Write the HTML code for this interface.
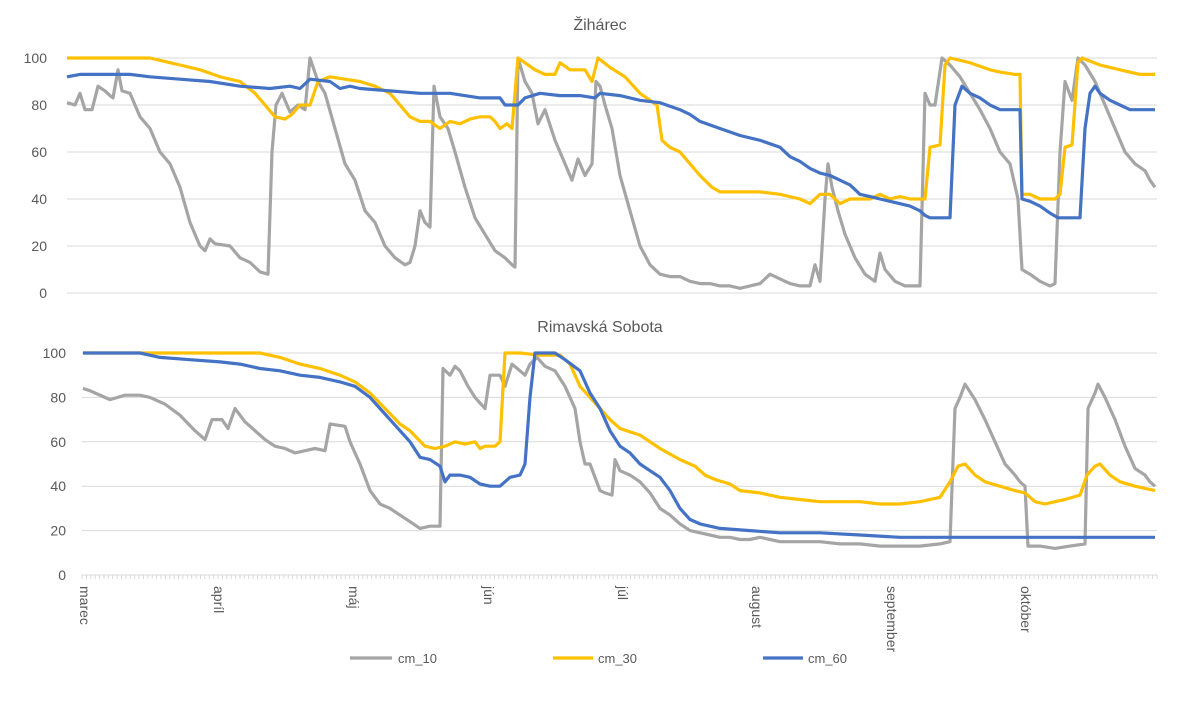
<!DOCTYPE html>
<html><head><meta charset="utf-8"><style>
html,body{margin:0;padding:0;background:#fff;}
svg{display:block;font-family:"Liberation Sans",sans-serif;}
</style></head><body>
<svg id="s" width="1200" height="706" xmlns="http://www.w3.org/2000/svg">
<rect width="1200" height="706" fill="#fff"/>
<text x="600" y="30" font-size="16" fill="#595959" text-anchor="middle">Žihárec</text>
<text x="600" y="332" font-size="16" fill="#595959" text-anchor="middle">Rimavská Sobota</text>
<g id="grid" stroke="#d9d9d9" stroke-width="1"></g>
<g id="lbl" font-size="14" fill="#595959"></g>
<g id="lines" fill="none" stroke-width="3.2" stroke-linejoin="round"></g>
<g font-size="13" fill="#595959">
<line x1="350" y1="658" x2="392" y2="658" stroke="#A5A5A5" stroke-width="3.2"/><text x="398" y="663">cm_10</text>
<line x1="553" y1="658" x2="593" y2="658" stroke="#FFC000" stroke-width="3.2"/><text x="598" y="663">cm_30</text>
<line x1="763" y1="658" x2="803" y2="658" stroke="#4472C4" stroke-width="3.2"/><text x="808" y="663">cm_60</text>
</g>
</svg>
<script>
const NS="http://www.w3.org/2000/svg";
function el(p,t,a,txt){const e=document.createElementNS(NS,t);for(const k in a)e.setAttribute(k,a[k]);if(txt!==undefined)e.textContent=txt;document.getElementById(p).appendChild(e);}
for(let i=0;i<=5;i++){let y=293-i*47;el('grid','line',{x1:67,x2:1157,y1:y,y2:y});el('lbl','text',{x:47,y:y+5,'text-anchor':'end'},String(i*20));}
for(let i=0;i<=5;i++){let y=575-i*44.4;el('grid','line',{x1:82,x2:1157,y1:y,y2:y});el('lbl','text',{x:66,y:y+5,'text-anchor':'end'},String(i*20));}
for(let d=0;d<=245;d++){let x=82+d*(1157-82)/245;el('grid','line',{x1:x,x2:x,y1:575,y2:579});}
const months=['marec','apríl','máj','jún','júl','august','september','október'];
const mx=[85,219,354,489,623,757,892,1026];
months.forEach((m,i)=>{el('lbl','text',{transform:`translate(${mx[i]-5},586) rotate(90)`},m);});
function P(a){let r=[];for(let i=0;i<a.length;i+=2)r.push([a[i],a[i+1]]);return r;}
function draw(pts,col,top){let s=pts.map(([x,v])=>{if(top)return x+','+(293-v*2.35).toFixed(1);let xx=Math.max(x,83);return xx+','+(575-v*2.22).toFixed(1);}).join(' ');el('lines','polyline',{points:s,stroke:col});}
const t10=P([67,81,75,80,80,85,85,78,92,78,98,88,105,86,110,84,113,83,118,95,122,86,130,85,140,75,150,70,160,60,170,55,180,45,190,30,200,20,205,18,210,23,215,21,230,20,240,15,250,13,260,9,268,8,272,60,276,80,282,85,290,77,298,80,305,78,310,100,318,90,325,85,335,70,345,55,355,48,365,35,375,30,385,20,395,15,405,12,410,13,415,20,420,35,425,30,430,28,434,88,440,75,448,70,455,60,465,45,475,32,485,25,495,18,505,15,512,12,515,11,518,100,525,90,532,85,538,72,545,78,555,65,565,55,572,48,578,57,585,50,592,55,596,90,600,88,605,80,612,70,620,50,630,35,640,20,650,12,660,8,670,7,680,7,690,5,700,4,710,4,720,3,730,3,740,2,750,3,760,4,770,8,780,6,790,4,800,3,810,3,815,12,820,5,825,40,828,55,832,45,838,35,845,25,855,15,865,8,875,5,880,17,885,10,895,5,905,3,915,3,920,3,925,85,930,80,935,80,942,100,950,97,960,92,970,85,980,78,990,70,1000,60,1010,55,1018,40,1022,10,1030,8,1040,5,1050,3,1055,4,1060,60,1065,90,1072,82,1078,100,1085,97,1095,90,1105,80,1115,70,1125,60,1135,55,1145,52,1150,48,1155,45]);
const t30=P([67,100,110,100,150,100,160,99,170,98,180,97,200,95,220,92,240,90,255,85,265,80,275,75,285,74,292,76,300,80,310,80,318,90,330,92,345,91,360,90,375,88,390,85,400,80,410,75,420,73,430,73,440,70,450,73,460,72,470,74,480,75,490,75,495,73,500,70,507,72,512,70,518,100,525,98,535,95,545,93,555,93,560,98,570,95,585,95,592,90,598,100,610,96,625,92,640,85,650,82,657,80,662,65,670,62,680,60,690,55,700,50,712,45,720,43,740,43,760,43,780,42,800,40,810,38,820,42,830,42,840,38,850,40,860,40,870,40,880,42,890,40,900,41,910,40,920,40,925,40,930,62,940,63,945,97,950,100,970,98,990,95,1000,94,1015,93,1020,93,1022,42,1030,42,1040,40,1055,40,1060,42,1065,62,1072,63,1078,98,1082,100,1100,97,1120,95,1140,93,1155,93]);
const t60=P([67,92,80,93,90,93,130,93,150,92,180,91,210,90,240,88,270,87,290,88,300,87,310,91,330,90,340,87,350,88,360,87,390,86,420,85,450,85,480,83,500,83,505,80,510,80,518,80,525,83,540,85,560,84,580,84,595,83,600,85,620,84,640,82,660,81,680,78,690,76,700,73,720,70,740,67,760,65,780,62,790,58,800,56,810,53,820,51,830,50,840,48,850,46,860,42,870,41,880,40,890,39,900,38,910,37,920,35,925,33,930,32,945,32,950,32,955,80,962,88,970,85,980,83,990,80,1000,78,1010,78,1020,78,1022,40,1030,39,1040,37,1050,34,1058,32,1065,32,1075,32,1080,32,1085,70,1090,85,1095,88,1100,85,1110,82,1120,80,1130,78,1140,78,1150,78,1155,78]);
const b10=P([83,84,90,83,95,82,110,79,125,81,140,81,150,80,165,77,180,72,195,65,205,61,212,70,222,70,228,66,235,75,245,69,255,65,265,61,275,58,285,57,295,55,305,56,315,57,325,56,330,68,345,67,350,60,360,50,370,38,380,32,390,30,400,27,410,24,420,21,430,22,440,22,443,93,450,90,455,94,460,92,468,85,475,80,485,75,490,90,500,90,505,85,512,95,520,92,525,90,530,95,537,98,545,94,555,92,565,85,575,75,580,60,585,50,590,50,600,38,605,37,612,36,615,52,620,47,630,45,640,42,650,37,660,30,670,27,680,23,690,20,700,19,710,18,720,17,730,17,740,16,750,16,760,17,770,16,780,15,800,15,820,15,840,14,860,14,880,13,900,13,920,13,940,14,950,15,955,75,960,80,965,86,975,79,985,70,995,60,1005,50,1015,45,1020,42,1025,40,1028,13,1040,13,1055,12,1070,13,1085,14,1088,75,1095,82,1098,86,1105,80,1115,70,1125,58,1135,48,1145,45,1150,42,1155,40]);
const b30=P([83,100,150,100,260,100,280,98,300,95,320,93,340,90,355,87,370,82,385,75,400,68,410,65,425,58,435,57,445,58,455,60,465,59,475,60,480,57,485,58,495,58,500,60,505,100,520,100,540,99,560,99,570,95,580,85,590,80,600,75,610,70,620,66,640,63,660,57,680,52,695,49,705,45,715,43,730,41,740,38,760,37,780,35,800,34,820,33,840,33,860,33,880,32,900,32,920,33,940,35,950,42,958,49,965,50,975,45,985,42,1000,40,1015,38,1025,37,1035,33,1045,32,1055,33,1065,34,1080,36,1087,45,1095,49,1100,50,1110,45,1120,42,1135,40,1145,39,1155,38]);
const b60=P([83,100,140,100,160,98,190,97,220,96,240,95,260,93,280,92,300,90,320,89,340,87,355,85,370,80,380,75,390,70,400,65,410,60,420,53,430,52,440,49,445,42,450,45,460,45,470,44,480,41,490,40,500,40,510,44,520,45,525,50,530,80,535,100,555,100,565,97,580,92,590,82,600,75,610,65,620,58,630,55,640,50,650,47,660,44,670,38,680,30,690,25,700,23,720,21,750,20,780,19,820,19,860,18,900,17,940,17,1000,17,1040,17,1080,17,1120,17,1155,17]);
draw(t10,'#A5A5A5',1);draw(t30,'#FFC000',1);draw(t60,'#4472C4',1);
draw(b10,'#A5A5A5',0);draw(b30,'#FFC000',0);draw(b60,'#4472C4',0);
</script>
</body></html>
